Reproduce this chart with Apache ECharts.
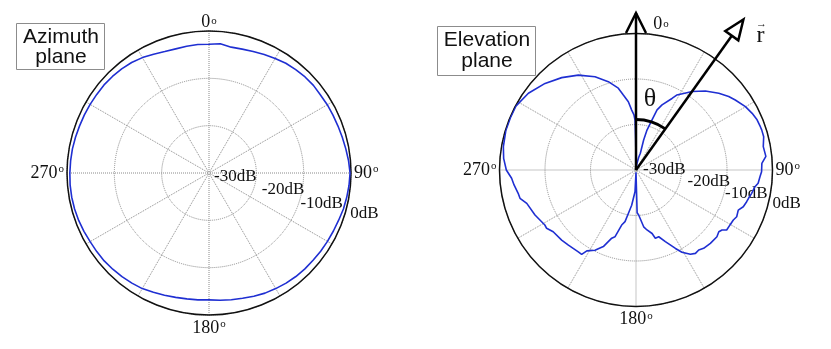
<!DOCTYPE html>
<html>
<head>
<meta charset="utf-8">
<script src="https://cdn.jsdelivr.net/npm/echarts@6/dist/echarts.min.js"></script>
<style>
  html, body { margin: 0; padding: 0; background: #fff; }
  #chart { width: 831px; height: 349px; }
</style>
</head>
<body>
<div id="chart"></div>
<script>
// radial scale (dB) shared by both plots
const rTicks = [-30, -20, -10, 0];
const angleLabels = [0, 90, 180, 270];

// azimuth plane, gain in dB every 5 deg
const azAngles = [0, 5, 10, 15, 20, 25, 30, 35, 40, 45, 50, 55, 60, 65, 70, 75, 80, 85,
  90, 95, 100, 105, 110, 115, 120, 125, 130, 135, 140, 145, 150, 155, 160, 165, 170, 175,
  180, 185, 190, 195, 200, 205, 210, 215, 220, 225, 230, 235, 240, 245, 250, 255, 260, 265,
  270, 275, 280, 285, 290, 295, 300, 305, 310, 315, 320, 325, 330, 335, 340, 345, 350, 355, 360];
const azGain = [-2.8, -2.6, -3.0, -2.9, -2.7, -2.4, -2.05, -1.7, -1.5, -1.3, -1.2, -1.25, -1.15, -1.1, -1.0, -0.85, -0.65, -0.4,
  -0.2, -0.3, -0.45, -0.6, -0.85, -1.0, -1.1, -1.2, -1.3, -1.35, -1.45, -1.6, -1.8, -2.0, -2.3, -2.6, -2.8, -3.0,
  -3.2, -3.1, -3.0, -2.8, -2.5, -2.2, -1.8, -1.6, -1.4, -1.25, -1.1, -1.05, -1.0, -0.85, -0.7, -0.6, -0.55, -0.55,
  -0.6, -0.65, -0.7, -0.8, -0.9, -0.95, -1.0, -1.05, -1.05, -1.15, -1.3, -1.5, -1.85, -2.3, -2.7, -2.85, -2.8, -2.75, -2.8];

// elevation plane, points along the traced curve (angle deg, gain dB)
const elAngles = [0, 8.5, 12, 14.6, 14.3, 15.4, 17.7, 19.3, 21.8, 26.7, 28.5, 31.9, 35.6, 41.3, 47.2, 51.6, 54.8,
  59.9, 64, 67.5, 70.8, 72.3, 75.4, 79.6, 84, 87, 90.8, 93, 96.2, 98, 101.4, 104.1, 106, 108.9, 111.4, 114.9, 117.2,
  120.3, 123.5, 124.9, 126.7, 129.5, 134.6, 139.2, 141.9, 144.5, 147.2, 150.8, 153.3, 157.7, 161.2, 164.2, 165.8,
  169.6, 172.3, 176.6, 178.5, 180.2, 182.6, 187, 190, 192, 194.6, 197.5, 199.6, 203.1, 207.1, 211.3, 212.8, 215.2,
  222, 226.7, 233.3, 236.9, 238.9, 246, 253, 256.3, 258.8, 263, 266.2, 270, 275, 280, 287, 293, 298, 305.5, 313.6,
  321.2, 328.7, 336.3, 342.6, 347.8, 350.4, 353.6, 355.9, 357.8, 358.9, 359.3, 359.7, 360];
const elGain = [-30, -28.5, -27.2, -26.2, -23.2, -20.9, -18.5, -16.0, -14.6, -12.4, -11.25, -10.2, -8.8, -6.9, -5.2, -4.0, -3.3,
  -2.2, -1.6, -1.2, -1.06, -1.0, -1.0, -1.56, -1.3, -2.3, -2.4, -2.7, -3.0, -3.6, -4.07, -4.5, -4.7, -5.08, -5.86, -5.6, -5.95,
  -6.07, -6.1, -6.95, -7.3, -6.95, -7.05, -7.25, -7.66, -7.5, -7.95, -9.3, -10.7, -13.0, -14.5, -14.4, -15.6,
  -16.6, -17.4, -20.1, -20.6, -29.5, -25.2, -22.2, -20.3, -18.4, -17.5, -14.6, -14.1, -11.7, -10.2, -9.2, -7.95, -8.0,
  -7.8, -7.55, -7.3, -6.55, -6.6, -5.7, -4.9, -3.76, -3.6, -3.0, -2.6, -1.5, -0.8, -0.4, -0.1, -0.1, -0.1, -0.95, -2.4,
  -3.95, -5.6, -7.6, -9.65, -11.6, -13.3, -14.9, -16.8, -17.8, -19, -23, -27, -30];

const SERIF = '"Liberation Serif", "Times New Roman", serif';
const SANS = '"Liberation Sans", Arial, sans-serif';
const gridLine = { color: '#8a8a8a', width: 1, type: 'dotted' };
const blue = '#1f2fd2';

function pair(angles, gains) {
  return angles.map((a, i) => [gains[i], a]);
}

function angleLabel(shiftTop) {
  return function (v) {
    if (angleLabels.indexOf(v) < 0) return '';
    if (v === 0) return shiftTop ? '{z|0}{u|o}' : '{t|0}{u|o}';
    return '{n|' + v + '}{s|o}';
  };
}

const angleRich = {
  n: { fontFamily: SERIF, fontSize: 18, lineHeight: 20, color: '#111' },
  s: { fontFamily: SERIF, fontSize: 11, lineHeight: 12, color: '#111', verticalAlign: 'top', padding: [1, 0, 0, 1] },
  // top label sits a little lower
  t: { fontFamily: SERIF, fontSize: 18, lineHeight: 12, color: '#111' },
  z: { fontFamily: SERIF, fontSize: 18, lineHeight: 12, color: '#111', padding: [0, 0, 0, 50] },
  u: { fontFamily: SERIF, fontSize: 11, lineHeight: 8, color: '#111', verticalAlign: 'top', padding: [0, 0, 0, 1] }
};

function mainAngleAxis(idx, shiftTop) {
  return {
    polarIndex: idx, type: 'value', min: 0, max: 360, interval: 30,
    startAngle: 90, clockwise: true,
    axisLine: { lineStyle: { color: '#111', width: 1.5 } },
    axisTick: { show: false },
    splitLine: { show: true, lineStyle: gridLine },
    axisLabel: { margin: 3, formatter: angleLabel(shiftTop), rich: angleRich }
  };
}

function mainRadiusAxis(idx) {
  return {
    polarIndex: idx, type: 'value', min: rTicks[0], max: rTicks[rTicks.length - 1], interval: 10,
    axisLine: { show: false }, axisTick: { show: false }, axisLabel: { show: false },
    splitLine: { show: true, lineStyle: gridLine }
  };
}

// extra polars only carry the dB labels along a slanted ray
function labelAngleAxis(idx, ang) {
  return { polarIndex: idx, type: 'value', min: 0, max: 360, startAngle: ang, show: false };
}

// per-tick nudges [top, left] of the dB labels
function labelRadiusAxis(idx, nudges) {
  const rich = {};
  nudges.forEach((p, i) => {
    rich['t' + i] = { fontFamily: SERIF, fontSize: 17, color: '#111', padding: [p[0], 0, 0, p[1]] };
  });
  return {
    polarIndex: idx, type: 'value', min: rTicks[0], max: rTicks[rTicks.length - 1], interval: 10,
    axisLine: { show: false }, axisTick: { show: false }, splitLine: { show: false },
    axisLabel: {
      margin: 0, align: 'left', verticalAlign: 'middle', rich: rich,
      showMinLabel: true, showMaxLabel: true, hideOverlap: false,
      formatter: v => '{t' + rTicks.indexOf(v) + '|' + v + 'dB}'
    }
  };
}

const option = {
  animation: false,
  backgroundColor: '#fff',
  polar: [
    { center: [209, 173], radius: 142 },
    { center: [636, 170], radius: 136.5 },
    { center: [209, 173], radius: 142 },
    { center: [636, 170], radius: 136.5 }
  ],
  angleAxis: [mainAngleAxis(0, false), mainAngleAxis(1, true), labelAngleAxis(2, -15), labelAngleAxis(3, -12)],
  radiusAxis: [
    mainRadiusAxis(0), mainRadiusAxis(1),
    labelRadiusAxis(2, [[8, 5], [8, 7], [12, 0], [8, 4]]),
    labelRadiusAxis(3, [[0, 7], [4, 7], [10, 0], [10, 3]])
  ],
  series: [
    {
      type: 'line', coordinateSystem: 'polar', polarIndex: 0, showSymbol: false,
      data: pair(azAngles, azGain), lineStyle: { color: blue, width: 1.6 }, z: 5
    },
    {
      type: 'line', coordinateSystem: 'polar', polarIndex: 1, showSymbol: false,
      data: pair(elAngles, elGain), lineStyle: { color: blue, width: 1.6 }, z: 5
    }
  ]
};

const chart = echarts.init(document.getElementById('chart'));
chart.setOption(option);

// annotation on the elevation plot: z axis arrow, r vector and theta arc
const THETA = 35.5;
const c = chart.convertToPixel({ seriesIndex: 1 }, [-30, 0]);
const rim = chart.convertToPixel({ seriesIndex: 1 }, [0, 0]);
const R = c[1] - rim[1];
const t = THETA * Math.PI / 180;
const ux = Math.sin(t), uy = -Math.cos(t);
const zTip = [c[0], c[1] - 1.15 * R];
const rTip = [c[0] + ux * 1.355 * R, c[1] + uy * 1.355 * R];
const hb = [rTip[0] - ux * 20, rTip[1] - uy * 20];

chart.setOption({
  graphic: [
    { type: 'rect', shape: { x: 16.5, y: 23.5, width: 88, height: 46 },
      style: { fill: '#fff', stroke: '#8c8c8c', lineWidth: 1 }, z: 10 },
    { type: 'text', x: 61, y: 47, z: 11,
      style: { text: 'Azimuth\nplane', fontFamily: SANS, fontSize: 21, lineHeight: 20,
        align: 'center', verticalAlign: 'middle', fill: '#111' } },
    { type: 'rect', shape: { x: 437.5, y: 26.5, width: 98, height: 49 },
      style: { fill: '#fff', stroke: '#8c8c8c', lineWidth: 1 }, z: 10 },
    { type: 'text', x: 487, y: 51, z: 11,
      style: { text: 'Elevation\nplane', fontFamily: SANS, fontSize: 21, lineHeight: 21,
        align: 'center', verticalAlign: 'middle', fill: '#111' } },
    { type: 'line', z: 20, shape: { x1: c[0], y1: c[1], x2: zTip[0], y2: zTip[1] },
      style: { stroke: '#000', lineWidth: 2.5 } },
    { type: 'polyline', z: 20,
      shape: { points: [[zTip[0] - 10, zTip[1] + 20], zTip, [zTip[0] + 10, zTip[1] + 20]] },
      style: { stroke: '#000', lineWidth: 2.5, fill: null } },
    { type: 'line', z: 20, shape: { x1: c[0], y1: c[1], x2: hb[0], y2: hb[1] },
      style: { stroke: '#000', lineWidth: 2.5 } },
    { type: 'polygon', z: 20,
      shape: { points: [rTip, [hb[0] - uy * 8, hb[1] + ux * 8], [hb[0] + uy * 8, hb[1] - ux * 8]] },
      style: { stroke: '#000', lineWidth: 2.5, fill: '#fff' } },
    { type: 'arc', z: 20,
      shape: { cx: c[0], cy: c[1], r: 0.37 * R, startAngle: -Math.PI / 2, endAngle: -Math.PI / 2 + t },
      style: { stroke: '#000', lineWidth: 3, fill: null } },
    { type: 'text', x: c[0] + 14, y: c[1] - 0.52 * R, z: 21,
      style: { text: '\u03B8', fontFamily: SERIF, fontSize: 26, align: 'center', verticalAlign: 'middle', fill: '#111' } },
    { type: 'text', x: rTip[0] + 17, y: rTip[1] + 16, z: 21,
      style: { text: 'r', fontFamily: SERIF, fontSize: 24, align: 'center', verticalAlign: 'middle', fill: '#111' } },
    { type: 'text', x: rTip[0] + 18, y: rTip[1] + 5, z: 21,
      style: { text: '\u2192', fontFamily: SERIF, fontSize: 11, align: 'center', verticalAlign: 'middle', fill: '#111' } }
  ]
});
</script>
</body>
</html>
